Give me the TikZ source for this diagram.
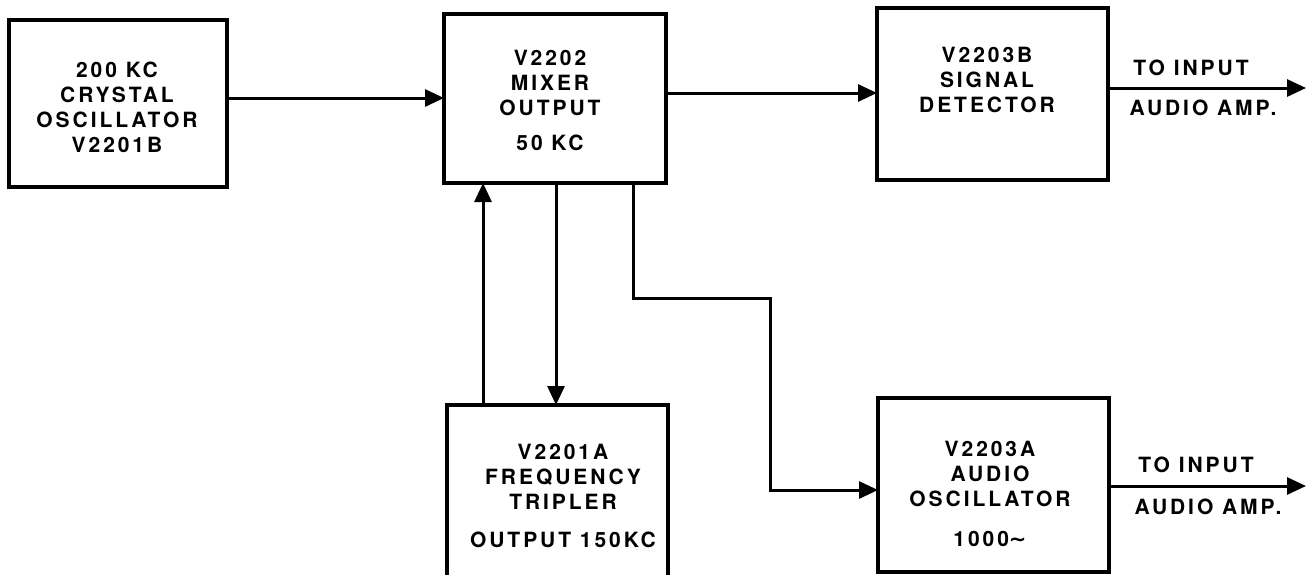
\documentclass[tikz,border=0pt]{standalone}
\usepackage{fontspec}
\setmainfont{TeX Gyre Heros}
\usetikzlibrary{arrows.meta,calc}
\tikzset{
  blk/.style={draw, line width=3.2pt, rectangle, inner sep=0pt, outer sep=0pt},
  lbl/.style={align=center, inner sep=0pt, font=\fontsize{21}{25}\selectfont\bfseries\addfontfeature{LetterSpace=14}},
  arr/.style={line width=3pt, -{Triangle[length=19pt,width=17pt]}},
}
\begin{document}
\begin{tikzpicture}[x=1pt,y=-1pt]
\useasboundingbox (0,0) rectangle (1309,574);
% boxes
\node[blk, minimum width=218pt, minimum height=167pt] (osc) at (118,103.5) {};
\node[blk, minimum width=222pt, minimum height=169pt] (mix) at (555,98.5) {};
\node[blk, minimum width=231pt, minimum height=172pt] (det) at (992.5,94) {};
\node[blk, minimum width=221pt, minimum height=175pt] (trip) at (557.5,492.5) {};
\node[blk, minimum width=231pt, minimum height=174pt] (aud) at (993.5,485) {};
% texts
\node[lbl] (tosc) at (117,107.5) {200 KC\\CRYSTAL\\OSCILLATOR\\V2201B};
\node[lbl] (tmix) at (550,100) {V2202\\MIXER\\OUTPUT\\[10pt]50 KC};
\node[lbl] (tdet) at (987,80) {V2203B\\SIGNAL\\DETECTOR};
\node[lbl] (ttrip) at (563,496) {V2201A\\FREQUENCY\\TRIPLER\\[13pt]OUTPUT 150KC};
\node[lbl] (taud) at (990,494) {V2203A\\AUDIO\\OSCILLATOR\\[15pt]1000{\fontspec{DejaVu Sans}\bfseries ∼}};
% output ends
\coordinate (out1) at (1306,88);
\coordinate (out2) at (1306,486);
\node[lbl] (to1) at (1191,68) {TO INPUT};
\node[lbl] (aa1) at (1203,108) {AUDIO AMP.};
\node[lbl] (to2) at (1196,465) {TO INPUT};
\node[lbl] (aa2) at (1208,507) {AUDIO AMP.};
% connectors
\draw[arr] (osc.east |- 0,98) -- (mix.west |- 0,98);
\draw[arr] (mix.east |- 0,93) -- (det.west |- 0,93);
\draw[arr] (det.east |- 0,88) -- (out1);
\draw[arr] (trip.north -| 483,0) -- (mix.south -| 483,0);
\draw[arr] (mix.south -| 556,0) -- (trip.north -| 556,0);
\draw[arr] (mix.south -| 633,0) |- (770,298) |- (aud.west |- 0,490);
\draw[arr] (aud.east |- 0,486) -- (out2);
\end{tikzpicture}
\end{document}
